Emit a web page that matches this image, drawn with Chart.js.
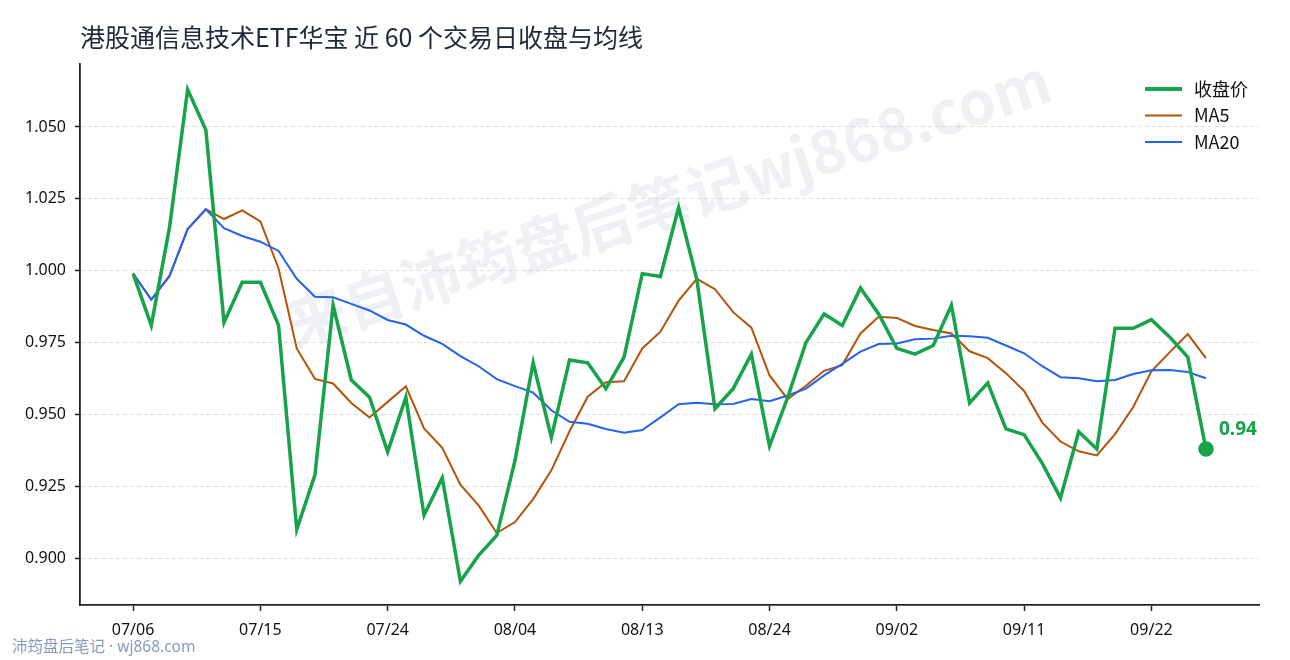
<!DOCTYPE html>
<html>
<head>
<meta charset="utf-8">
<script src="https://cdn.jsdelivr.net/npm/chart.js@4.4.1/dist/chart.umd.min.js"></script>
<style>
  html, body { margin: 0; padding: 0; background: #fff; }
  #wrap { width: 1290px; height: 660px; }
</style>
</head>
<body>
<div id="wrap"><canvas id="priceChart" width="1290" height="660"></canvas></div>
<script>
// values (60 trading days)
const titleText = '港股通信息技术ETF华宝 近 60 个交易日收盘与均线';
const tickIndex = [0, 7, 14, 21, 28, 35, 42, 49, 56];
const tickLabels = ['07/06', '07/15', '07/24', '08/04', '08/13', '08/24', '09/02', '09/11', '09/22'];
const yTicks = [0.900, 0.925, 0.950, 0.975, 1.000, 1.025, 1.050];

const closes = [
  0.999, 0.981, 1.015, 1.063, 1.049, 0.982, 0.996, 0.996, 0.981, 0.910,
  0.929, 0.988, 0.962, 0.956, 0.937, 0.956, 0.915, 0.928, 0.892, 0.901,
  0.908, 0.934, 0.968, 0.942, 0.969, 0.968, 0.959, 0.970, 0.999, 0.998,
  1.022, 0.997, 0.952, 0.959, 0.971, 0.939, 0.956, 0.975, 0.985, 0.981,
  0.994, 0.985, 0.973, 0.971, 0.974, 0.988, 0.954, 0.961, 0.945, 0.943,
  0.933, 0.921, 0.944, 0.938, 0.980, 0.980, 0.983, 0.977, 0.970, 0.938
];
const ma5 = [
  0.999, 0.990, 0.998, 1.0145, 1.0214, 1.018, 1.021, 1.0172, 1.0008, 0.973,
  0.9624, 0.9608, 0.954, 0.949, 0.9544, 0.9598, 0.9452, 0.9384, 0.9256, 0.9184,
  0.9088, 0.9126, 0.9206, 0.9306, 0.9442, 0.9562, 0.9612, 0.9616, 0.973, 0.9788,
  0.9896, 0.9972, 0.9936, 0.9856, 0.9802, 0.9636, 0.9554, 0.960, 0.9652, 0.9672,
  0.9782, 0.984, 0.9836, 0.9808, 0.9794, 0.9782, 0.972, 0.9696, 0.9644, 0.9582,
  0.9472, 0.9406, 0.9372, 0.9358, 0.9432, 0.9526, 0.965, 0.9716, 0.978, 0.9696
];
const ma20 = [
  0.999, 0.990, 0.9983, 1.0145, 1.0214, 1.0148, 1.0121, 1.0101, 1.0069, 0.9972,
  0.991, 0.9908, 0.9885, 0.9862, 0.9829, 0.9813, 0.9774, 0.9746, 0.9703, 0.9668,
  0.9623, 0.9599, 0.9576, 0.9515, 0.9475, 0.9468, 0.945, 0.9437, 0.9446, 0.949,
  0.9536, 0.9541, 0.9536, 0.9537, 0.9554, 0.9546, 0.9566, 0.959, 0.9636, 0.9676,
  0.9719, 0.9745, 0.9747, 0.9762, 0.9764, 0.9774, 0.9772, 0.9767, 0.974, 0.9713,
  0.9668, 0.963, 0.9626, 0.9616, 0.962, 0.9641, 0.9654, 0.9655, 0.9648, 0.9626
];

const GREEN = '#16a34a';
const ORANGE = '#b45309';
const BLUE = '#2563eb';
const FONT = "'Noto Sans', 'Noto Sans CJK SC', sans-serif";
const CJK = "'Noto Sans CJK SC', 'Noto Sans', sans-serif";

const toPoints = arr => arr.map((v, i) => ({ x: i, y: v }));
const lastIdx = closes.length - 1;

// watermark, title, legend, footer and end label
const decorations = {
  id: 'decorations',
  beforeDatasetsDraw(chart) {
    const ctx = chart.ctx;
    ctx.save();
    ctx.translate(668, 202);
    ctx.rotate(-18 * Math.PI / 180);
    ctx.font = 'bold 60px ' + CJK;
    ctx.fillStyle = 'rgba(160, 170, 195, 0.18)';
    ctx.textAlign = 'center';
    ctx.textBaseline = 'middle';
    ctx.fillText('来自沛筠盘后笔记wj868.com', 0, 0);
    ctx.restore();
  },
  afterDraw(chart) {
    const ctx = chart.ctx;
    ctx.save();
    ctx.textBaseline = 'middle';
    ctx.textAlign = 'left';

    ctx.font = '25px ' + CJK;
    ctx.fillStyle = '#1f2937';
    ctx.fillText(titleText, 80, 37);

    const items = [['收盘价', GREEN, 4], ['MA5', ORANGE, 2], ['MA20', BLUE, 2]];
    items.forEach((it, k) => {
      const y = 89 + k * 26.5;
      ctx.strokeStyle = it[1];
      ctx.lineWidth = it[2];
      ctx.beginPath();
      ctx.moveTo(1145, y);
      ctx.lineTo(1182, y);
      ctx.stroke();
      ctx.fillStyle = '#111';
      ctx.font = '18px ' + CJK;
      ctx.fillText(it[0], 1194, y);
    });

    ctx.font = '15.5px ' + FONT;
    ctx.fillStyle = '#8a9bb5';
    ctx.fillText('沛筠盘后笔记 · wj868.com', 12, 648);

    const pt = chart.getDatasetMeta(0).data[lastIdx];
    ctx.font = 'bold 19px ' + FONT;
    ctx.fillStyle = GREEN;
    ctx.fillText(closes[lastIdx].toFixed(2), pt.x + 13, pt.y - 19);
    ctx.restore();
  }
};

new Chart(document.getElementById('priceChart'), {
  type: 'line',
  data: {
    datasets: [
      {
        label: '收盘价',
        data: toPoints(closes),
        borderColor: GREEN,
        backgroundColor: GREEN,
        borderWidth: 3.5,
        pointRadius: ctx => ctx.dataIndex === lastIdx ? 6 : 0,
        pointHoverRadius: 0,
        tension: 0,
        order: 0
      },
      {
        label: 'MA5',
        data: toPoints(ma5),
        borderColor: ORANGE,
        borderWidth: 2,
        pointRadius: 0,
        tension: 0,
        order: 2
      },
      {
        label: 'MA20',
        data: toPoints(ma20),
        borderColor: BLUE,
        borderWidth: 2,
        pointRadius: 0,
        tension: 0,
        order: 1
      }
    ]
  },
  options: {
    responsive: false,
    animation: false,
    devicePixelRatio: 1,
    layout: { padding: { top: 64, right: 31, left: 0, bottom: 0 } },
    plugins: {
      legend: { display: false },
      title: { display: false },
      tooltip: { enabled: false }
    },
    scales: {
      x: {
        type: 'linear',
        min: -2.92,
        max: 61.917,
        afterBuildTicks: axis => { axis.ticks = tickIndex.map(v => ({ value: v })); },
        afterFit: axis => { axis.height = 55; },
        ticks: {
          callback: v => tickLabels[tickIndex.indexOf(v)],
          font: { family: FONT, size: 16 },
          color: '#111',
          padding: 10,
          maxRotation: 0
        },
        grid: { drawOnChartArea: false, drawTicks: true, tickLength: 6, tickWidth: 1.5, tickColor: '#222' },
        border: { display: true, color: '#222', width: 1.8 }
      },
      y: {
        min: 0.88376,
        max: 1.07191,
        afterBuildTicks: axis => { axis.ticks = yTicks.map(v => ({ value: v })); },
        afterFit: axis => { axis.width = 80; },
        ticks: {
          callback: v => v.toFixed(3),
          font: { family: FONT, size: 16 },
          color: '#111',
          padding: 9
        },
        grid: { color: '#dedede', lineWidth: 1, tickLength: 5, tickWidth: 1.5, tickColor: '#222' },
        border: { display: true, color: '#222', width: 1.8, dash: [4, 3] }
      }
    }
  },
  plugins: [decorations]
});
</script>
</body>
</html>
